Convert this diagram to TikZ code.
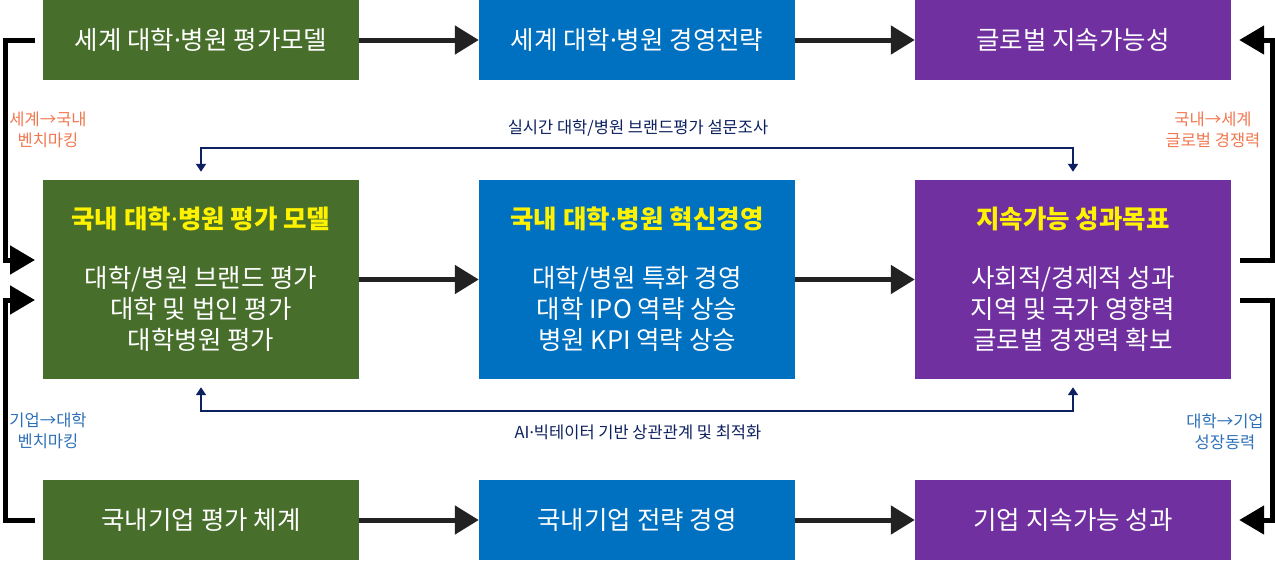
\documentclass[tikz,border=0pt]{standalone}
\usepackage{fontspec}
\setmainfont{Noto Sans CJK KR}
\newfontfamily\latinfont{Noto Sans}
\newcommand{\mdot}{{\latinfont ·}}
\usetikzlibrary{arrows.meta,positioning}
\definecolor{cgreen}{HTML}{476E2A}
\definecolor{cblue}{HTML}{0070C0}
\definecolor{cpurple}{HTML}{7030A0}
\definecolor{cnavy}{HTML}{0D2060}
\definecolor{corange}{HTML}{F07850}
\definecolor{clblue}{HTML}{2E70B8}
\definecolor{cdark}{HTML}{222222}
\begin{document}
\begin{tikzpicture}[x=1pt,y=-1pt,
  box/.style={inner sep=0pt,minimum width=316pt,text=white,align=center,font=\fontsize{25.5}{31}\selectfont},
  shortbox/.style={box,minimum height=80pt},
  tallbox/.style={box,minimum height=199pt},
  flow/.style={draw=cdark,line width=5pt,-{Triangle[length=24pt,width=28pt]}},
  side/.style={draw=black,line width=5pt,-{Triangle[length=25pt,width=28pt]}},
  fb/.style={draw=cnavy,line width=2pt,{Triangle[length=8pt,width=10pt]}-{Triangle[length=8pt,width=10pt]}},
  fblabel/.style={text=cnavy,font=\fontsize{16.5}{19}\selectfont,inner sep=0pt},
  sidelabel/.style={font=\fontsize{16.5}{21}\selectfont,align=center,inner sep=0pt}]
\useasboundingbox (0,0) rectangle (1275,560);
% top row
\node[shortbox,fill=cgreen] (t1) at (201,40) {세계 대학\mdot 병원 평가모델};
\node[shortbox,fill=cblue] (t2) at (637,40) {세계 대학\mdot 병원 경영전략};
\node[shortbox,fill=cpurple] (t3) at (1073,40) {글로벌 지속가능성};
% middle row
\node[tallbox,fill=cgreen] (m1) at (201,279.5) {{\bfseries\color{yellow}국내 대학\mdot 병원 평가 모델}\\[28pt]대학/병원 브랜드 평가\\대학 및 법인 평가\\대학병원 평가};
\node[tallbox,fill=cblue] (m2) at (637,279.5) {{\bfseries\color{yellow}국내 대학\mdot 병원 혁신경영}\\[28pt]대학/병원 특화 경영\\대학 IPO 역략 상승\\병원 KPI 역략 상승};
\node[tallbox,fill=cpurple] (m3) at (1073,279.5) {{\bfseries\color{yellow}지속가능 성과목표}\\[28pt]사회적/경제적 성과\\지역 및 국가 영향력\\글로벌 경쟁력 확보};
% bottom row
\node[shortbox,fill=cgreen] (b1) at (201,520) {국내기업 평가 체계};
\node[shortbox,fill=cblue] (b2) at (637,520) {국내기업 전략 경영};
\node[shortbox,fill=cpurple] (b3) at (1073,520) {기업 지속가능 성과};
% horizontal flows
\draw[flow] (t1.east) -- (t2.west);
\draw[flow] (t2.east) -- (t3.west);
\draw[flow] (m1.east) -- (m2.west);
\draw[flow] (m2.east) -- (m3.west);
\draw[flow] (b1.east) -- (b2.west);
\draw[flow] (b2.east) -- (b3.west);
% side connectors
\coordinate (lt) at ([xshift=-8pt]t1.west);
\coordinate (lm1) at (35,260);
\coordinate (lm2) at (35,300);
\coordinate (lb) at ([xshift=-8pt]b1.west);
\draw[side] (lt) -- (5,40) |- (lm1);
\draw[side] (lb) -- (5,520) |- (lm2);
\coordinate (rm1) at (1240,260);
\coordinate (rm2) at (1240,300);
\coordinate (rt) at ([xshift=8pt]t3.east);
\coordinate (rb) at ([xshift=8pt]b3.east);
\draw[side] (rm1) -- (1272,260) |- (rt);
\draw[side] (rm2) -- (1272,300) |- (rb);
% feedback lines
\draw[fb] ([yshift=8pt]m1.north) -- ++(0,-24) coordinate (fbt) -| ([yshift=8pt]m3.north);
\draw[fb] ([yshift=-8pt]m1.south) -- ++(0,24) coordinate (fbb) -| ([yshift=-8pt]m3.south);
\node[fblabel] (lbt) at (638,128) {실시간 대학/병원 브랜드평가 설문조사};
\node[fblabel] (lbb) at (638,432) {AI\mdot 빅테이터 기반 상관관계 및 최적화};
% side labels
\node[sidelabel,text=corange] (sl1) at (48,130) {세계→국내\\벤치마킹};
\node[sidelabel,text=clblue] (sl2) at (48,431) {기업→대학\\벤치마킹};
\node[sidelabel,text=corange] (sr1) at (1213,130) {국내→세계\\글로벌 경쟁력};
\node[sidelabel,text=clblue] (sr2) at (1225,432) {대학→기업\\성장동력};
\end{tikzpicture}
\end{document}
